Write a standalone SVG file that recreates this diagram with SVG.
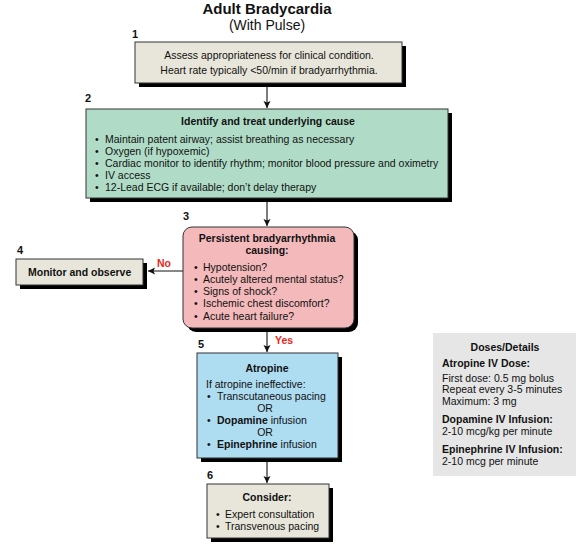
<svg xmlns="http://www.w3.org/2000/svg" width="576" height="545" viewBox="0 0 576 545">
<defs>
<style>
text{font-family:"Liberation Sans",Arial,sans-serif;fill:#111;font-size:10.5px}
.b{font-weight:bold}
.c{text-anchor:middle}
.num{font-weight:bold;font-size:11px}
.box{stroke:#333;stroke-width:1}
.sh{fill:#000}
.red{fill:#e8281c;font-weight:bold;font-size:10.5px}
.conn line{stroke:#111;stroke-width:1.1}
</style>
<marker id="ah" markerWidth="10" markerHeight="10" refX="7" refY="5" orient="auto" markerUnits="userSpaceOnUse">
<path d="M0,1.5 L7,5 L0,8.5 L1.5,5 Z" fill="#111"/>
</marker>
</defs>
<rect width="576" height="545" fill="#fff"/>
<g id="title">
<text x="267" y="14" class="b c" style="font-size:15px">Adult Bradycardia</text>
<text x="267" y="29.5" class="c" style="font-size:14px">(With Pulse)</text>
</g>
<g class="conn" id="connectors">
<line x1="267" y1="87" x2="267" y2="108" marker-end="url(#ah)"/>
<line x1="267" y1="202" x2="267" y2="226" marker-end="url(#ah)"/>
<line x1="183" y1="271" x2="148" y2="271" marker-end="url(#ah)"/>
<line x1="267" y1="332" x2="267" y2="352" marker-end="url(#ah)"/>
<line x1="267" y1="462" x2="267" y2="483" marker-end="url(#ah)"/>
<text x="157" y="267" class="red">No</text>
<text x="275" y="344" class="red">Yes</text>
</g>
<g id="node1">
<text x="132" y="38" class="num">1</text>
<rect x="139" y="46" width="267" height="41" class="sh"/>
<rect x="135" y="42" width="267" height="41" fill="#e8e6da" class="box"/>
<text x="269" y="59" class="c">Assess appropriateness for clinical condition.</text>
<text x="269" y="74" class="c">Heart rate typically &lt;50/min if bradyarrhythmia.</text>
</g>
<g id="node2">
<text x="85" y="102" class="num">2</text>
<rect x="90" y="113" width="362" height="89" class="sh"/>
<rect x="86" y="109" width="362" height="89" fill="#b0dcc7" class="box"/>
<text x="268" y="125" class="b c">Identify and treat underlying cause</text>
<text x="95" y="143">•</text><text x="105" y="143">Maintain patent airway; assist breathing as necessary</text>
<text x="95" y="155">•</text><text x="105" y="155">Oxygen (if hypoxemic)</text>
<text x="95" y="167">•</text><text x="105" y="167">Cardiac monitor to identify rhythm; monitor blood pressure and oximetry</text>
<text x="95" y="179">•</text><text x="105" y="179">IV access</text>
<text x="95" y="191">•</text><text x="105" y="191">12-Lead ECG if available; don’t delay therapy</text>
</g>
<g id="node3">
<text x="183" y="220" class="num">3</text>
<rect x="187" y="231" width="171" height="101" rx="9" class="sh"/>
<rect x="183" y="227" width="171" height="101" rx="9" fill="#f4b9bb" class="box"/>
<text x="267" y="242" class="b c">Persistent bradyarrhythmia</text>
<text x="267" y="254" class="b c">causing:</text>
<text x="194" y="271">•</text><text x="203" y="271">Hypotension?</text>
<text x="194" y="283">•</text><text x="203" y="283">Acutely altered mental status?</text>
<text x="194" y="295">•</text><text x="203" y="295">Signs of shock?</text>
<text x="194" y="307">•</text><text x="203" y="307">Ischemic chest discomfort?</text>
<text x="194" y="320">•</text><text x="203" y="320">Acute heart failure?</text>
</g>
<g id="node4">
<text x="17" y="254" class="num">4</text>
<rect x="20" y="263" width="127" height="26" class="sh"/>
<rect x="16" y="259" width="127" height="26" fill="#e8e6da" class="box"/>
<text x="28" y="276" class="b">Monitor and observe</text>
</g>
<g id="node5">
<text x="198" y="348" class="num">5</text>
<rect x="201" y="357" width="141" height="105" class="sh"/>
<rect x="197" y="353" width="141" height="105" fill="#aedcf1" class="box"/>
<text x="267" y="372" class="b c">Atropine</text>
<text x="206" y="388">If atropine ineffective:</text>
<text x="207" y="400">•</text><text x="217" y="400">Transcutaneous pacing</text>
<text x="265" y="412" class="c">OR</text>
<text x="207" y="424">•</text><text x="217" y="424"><tspan class="b">Dopamine</tspan> infusion</text>
<text x="265" y="436" class="c">OR</text>
<text x="207" y="448">•</text><text x="217" y="448"><tspan class="b">Epinephrine</tspan> infusion</text>
</g>
<g id="node6">
<text x="207" y="479" class="num">6</text>
<rect x="211" y="488" width="122" height="54" class="sh"/>
<rect x="207" y="484" width="122" height="54" fill="#e8e6da" class="box"/>
<text x="267" y="501" class="b c">Consider:</text>
<text x="216" y="518">•</text><text x="225" y="518">Expert consultation</text>
<text x="216" y="530">•</text><text x="225" y="530">Transvenous pacing</text>
</g>
<g id="doses">
<rect x="433" y="333" width="143" height="143" fill="#e6e6e6"/>
<text x="505" y="351" class="b c">Doses/Details</text>
<text x="442" y="367" class="b">Atropine IV Dose:</text>
<text x="442" y="382">First dose: 0.5 mg bolus</text>
<text x="442" y="393">Repeat every 3-5 minutes</text>
<text x="442" y="405">Maximum: 3 mg</text>
<text x="442" y="423" class="b">Dopamine IV Infusion:</text>
<text x="442" y="435">2-10 mcg/kg per minute</text>
<text x="442" y="453" class="b">Epinephrine IV Infusion:</text>
<text x="442" y="465">2-10 mcg per minute</text>
</g>
</svg>
